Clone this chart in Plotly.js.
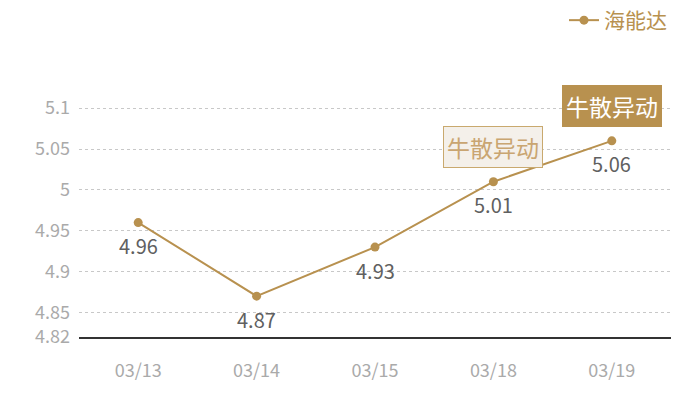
<!DOCTYPE html>
<html>
<head>
<meta charset="utf-8">
<script src="https://cdn.plot.ly/plotly-3.0.1.min.js"></script>
<style>
  html, body { margin: 0; padding: 0; background: #fff; }
  #plot { width: 700px; height: 400px; }
</style>
</head>
<body>
<div id="plot"></div>
<script>
// dates and closing values
const dates = ["03/13", "03/14", "03/15", "03/18", "03/19"];
const prices = [4.96, 4.87, 4.93, 5.01, 5.06];
const seriesName = "海能达";

// tags above points (empty = none)
const tags = ["", "", "", "牛散异动", "牛散异动"];
const tagFilled = [false, false, false, false, true];

// y axis ticks
const yTicks = [4.82, 4.85, 4.9, 4.95, 5, 5.05, 5.1, 5.11];
const yTickText = ["4.82", "4.85", "4.9", "4.95", "5", "5.05", "5.1", ""];

const gold = "#b8914f";
const font = "'Noto Sans CJK SC', 'Noto Sans', sans-serif";

const trace = {
    x: dates,
    y: prices,
    name: seriesName,
    type: "scatter",
    mode: "lines+markers",
    line: { color: gold, width: 2 },
    marker: { color: gold, size: 9 },
    cliponaxis: false,
    hoverinfo: "x+y"
};

const annotations = [];
// value labels under each point
prices.forEach((v, i) => {
    annotations.push({
        x: dates[i],
        y: v,
        text: v.toFixed(2),
        showarrow: false,
        yshift: -23,
        font: { family: font, size: 20, color: "#606060" }
    });
});
tags.forEach((t, i) => {
    if (!t) return;
    annotations.push({
        x: dates[i],
        y: prices[i],
        text: t,
        showarrow: false,
        yshift: 35,
        font: { family: font, size: 23, color: tagFilled[i] ? "#ffffff" : "#c9a571" },
        bgcolor: tagFilled[i] ? gold : "#f4f0ea",
        bordercolor: tagFilled[i] ? gold : "#c9a96e",
        borderwidth: 1,
        borderpad: 3
    });
});

const layout = {
    width: 700,
    height: 400,
    margin: { l: 79, r: 29, t: 100, b: 63 },
    paper_bgcolor: "#fff",
    plot_bgcolor: "#fff",
    showlegend: true,
    legend: {
        xref: "container", yref: "container",
        x: 0.96, xanchor: "right", y: 1, yanchor: "top",
        orientation: "h",
        font: { family: font, size: 21, color: gold },
        itemwidth: 30
    },
    xaxis: {
        type: "category",
        range: [-0.5, 4.5],
        showgrid: false,
        showline: true,
        linecolor: "#333",
        linewidth: 1.5,
        ticks: "",
        ticklabelstandoff: 17,
        tickfont: { family: font, size: 18, color: "#aaaaaa" },
        zeroline: false
    },
    yaxis: {
        range: [4.82, 5.11],
        tickmode: "array",
        tickvals: yTicks,
        ticktext: yTickText,
        showgrid: true,
        gridcolor: "#c8c8c8",
        griddash: "dot",
        gridwidth: 1,
        showline: false,
        zeroline: false,
        ticks: "",
        ticklabelstandoff: 8,
        tickfont: { family: font, size: 18, color: "#aaaaaa" }
    },
    annotations: annotations
};

Plotly.newPlot("plot", [trace], layout, { displayModeBar: false });
</script>
</body>
</html>
